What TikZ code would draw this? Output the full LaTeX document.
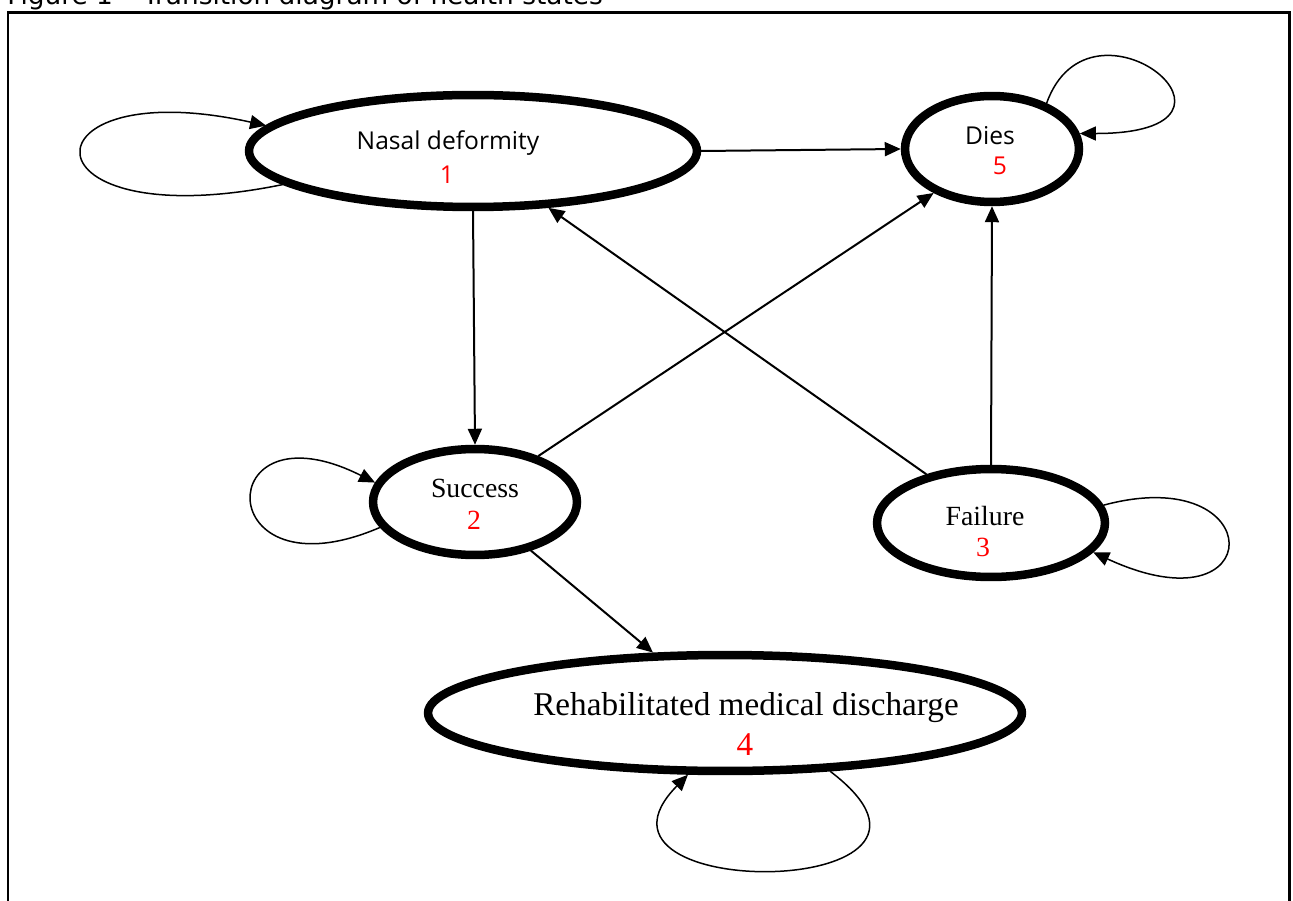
\documentclass[tikz,border=0pt]{standalone}
\usepackage{fontspec}
\usepackage{tikz}
\usetikzlibrary{shapes.geometric}
\usetikzlibrary{arrows.meta}
\setmainfont{Liberation Serif}
\newfontfamily\opensans{Open Sans}
\newfontfamily\dejavusans{DejaVu Sans}
\definecolor{StateNumber}{HTML}{FF0000}

\begin{document}
\begin{tikzpicture}[x=0.02cm, y=0.02cm,
    state/.style={draw, ellipse, line width=0.17cm, inner sep=0pt, outer sep=0.085cm},
    trans/.style={line width=0.04cm, -{Triangle[length=0.32cm, width=0.28cm]}},
    loopline/.style={line width=0.03cm, -{Triangle[length=0.32cm, width=0.28cm]}},
    sanslabel/.style={inner sep=0pt, font=\opensans\fontsize{14}{16}\selectfont},
    seriflabel/.style={inner sep=0pt, font=\fontsize{15.8}{18}\selectfont}]
  \useasboundingbox (0,0) rectangle (1293,900);
  \draw[line width=0.06cm] (8,-20) rectangle (1289,887.5);
  \node[anchor=base west, inner sep=0pt, font=\dejavusans\fontsize{15}{17}\selectfont] (title) at (7,895) {Figure 1 – Transition diagram of health states};

  \node[state, minimum width=8.96cm, minimum height=2.24cm] (n1) at (473,749) {};
  \node[state, minimum width=4.08cm, minimum height=2.12cm] (n2) at (475,398) {};
  \node[state, minimum width=4.56cm, minimum height=2.16cm] (n3) at (991,377) {};
  \node[state, minimum width=11.88cm, minimum height=2.32cm] (n4) at (725,187) {};
  \node[state, minimum width=3.48cm, minimum height=2.12cm] (n5) at (992,751) {};

  \node[sanslabel] (lbl1) at (448,757) {Nasal deformity};
  \node[sanslabel, text=StateNumber] (num1) at (447,725) {1};
  \node[seriflabel] (lbl2) at (475,412) {Success};
  \node[seriflabel, text=StateNumber] (num2) at (474,380) {2};
  \node[seriflabel] (lbl3) at (985,384) {Failure};
  \node[seriflabel, text=StateNumber] (num3) at (983,353) {3};
  \node[seriflabel, font=\fontsize{18.9}{22}\selectfont] (lbl4) at (746,192) {Rehabilitated medical discharge};
  \node[seriflabel, font=\fontsize{18.9}{22}\selectfont, text=StateNumber] (num4) at (745,155) {4};
  \node[sanslabel] (lbl5) at (990,764) {Dies};
  \node[sanslabel, text=StateNumber] (num5) at (1000,734) {5};

  \draw[trans] (n1.east) -- (n5.west);
  \draw[trans] (n1.south) -- (n2.north);
  \draw[trans] (n2.36) -- (n5.217);
  \draw[trans] (n3.143) -- (n1.-37);
  \draw[trans] (n3.north) -- (n5.south);
  \draw[trans] (n2.-41) -- (n4.140);

  \draw[loopline] (n1.190) .. controls +(-267,-55) and +(-247,55) .. (n1.173);
  \draw[loopline] (n2.195) .. controls +(-170,-73) and +(-165,83) .. (n2.169);
  \draw[loopline] (n3.9) .. controls +(167,45) and +(177,-82) .. (n3.-16);
  \draw[loopline] (n4.-29) .. controls +(170,-129) and +(-128,-130) .. (n4.-121);
  \draw[loopline] (n5.40) .. controls +(44,123) and +(200,0) .. (n5.10);
\end{tikzpicture}
\end{document}
